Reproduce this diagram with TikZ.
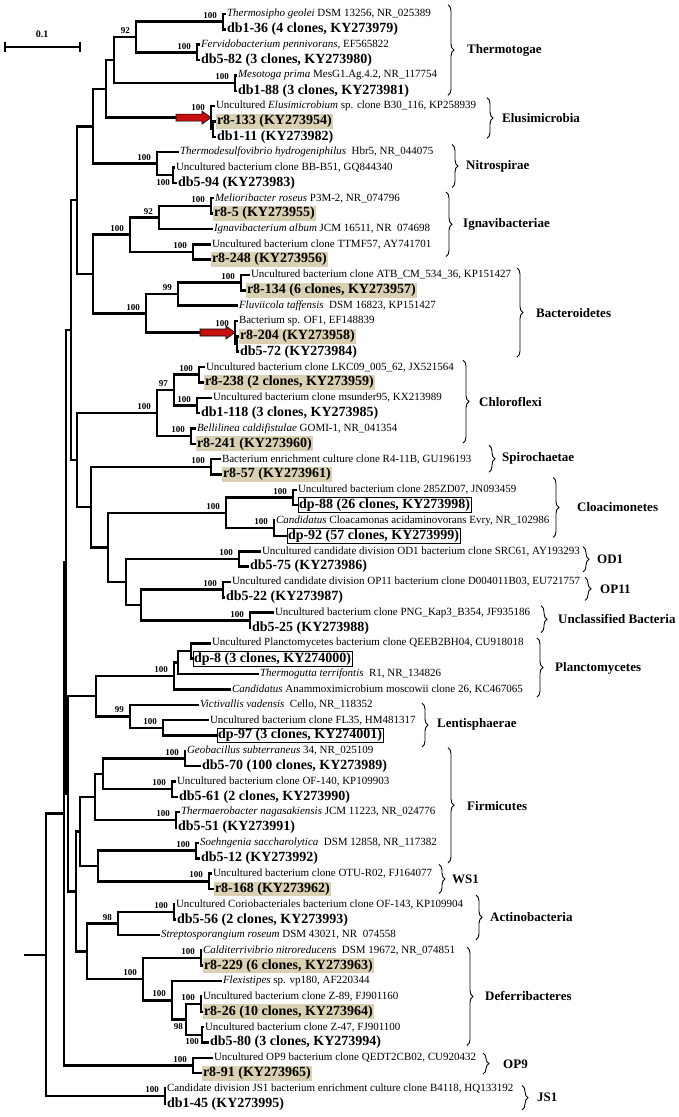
\documentclass[tikz,border=0pt]{standalone}
\usepackage{fontspec}
\setmainfont{Liberation Serif}
\definecolor{hltan}{RGB}{217,209,177}
\definecolor{arrred}{RGB}{200,16,16}
\usetikzlibrary{shapes,arrows,decorations.pathreplacing,calc}

\begin{document}
\begin{tikzpicture}[x=1pt, y=-15.35pt,
    br/.style={line width=2.5pt},
    sp/.style={anchor=west, inner sep=1pt, outer sep=0pt, font=\fontsize{11}{12}\selectfont},
    cl/.style={anchor=west, inner sep=1pt, outer sep=0pt, font=\fontsize{14}{16}\selectfont\bfseries},
    hl/.style={cl, fill=hltan},
    bx/.style={cl, draw, line width=0.9pt},
    bs/.style={anchor=south east, inner sep=0pt, xshift=-6pt, yshift=3pt, font=\fontsize{9}{10}\selectfont\bfseries},
    bsl/.style={anchor=north east, inner sep=0pt, xshift=-3pt, yshift=-4pt, font=\fontsize{9}{10}\selectfont\bfseries},
    grp/.style={anchor=west, inner sep=0pt, font=\fontsize{13}{15}\selectfont\bfseries},
    brc/.style={decorate, decoration={brace, amplitude=6pt}, line width=0.9pt},
    redarr/.pic={\filldraw[fill=arrred, draw=black, line width=0.6pt] (-35pt,-3.5pt) -- (-9pt,-3.5pt) -- (-9pt,-6.5pt) -- (0pt,0pt) -- (-9pt,6.5pt) -- (-9pt,3.5pt) -- (-35pt,3.5pt) -- cycle;}]
  \useasboundingbox (0pt,0pt) rectangle (678pt,-1117pt);
  \begin{scope}[yshift=-14pt]
    % Scale bar
    \coordinate (sb0) at (5,2.15);
    \coordinate (sb1) at (80,2.15);
    \draw[br] (sb0) -- (sb1);
    \draw[line width=1.6pt] (5,1.85) -- (5,2.45) (80,1.85) -- (80,2.45);
    \node[font=\fontsize{10}{12}\selectfont\bfseries] (sbl) at (42,1.35) {0.1};

    % Inner nodes
    \coordinate (c01) at (223,0.5);
    \coordinate (c23) at (197,2.5);
    \coordinate (n92) at (136,1.5);
    \coordinate (c45) at (235,4.5);
    \coordinate (thr) at (114,3);
    \coordinate (c78) at (213,7.5);
    \coordinate (elu) at (211,6.75);
    \coordinate (n2) at (106,4.875);
    \coordinate (c1011) at (173,10.5);
    \coordinate (nit) at (157,9.75);
    \coordinate (n1) at (93,7.3125);
    \coordinate (c1213) at (211,12.5);
    \coordinate (n92b) at (159,13.25);
    \coordinate (c1516) at (193,15.5);
    \coordinate (ign) at (130,14.375);
    \coordinate (c1718) at (241,17.5);
    \coordinate (n99) at (178,18.25);
    \coordinate (c2122) at (237,21.5);
    \coordinate (ba) at (235,20.75);
    \coordinate (bac) at (146,19.5);
    \coordinate (n3) at (93,16.9375);
    \coordinate (n0) at (77,12.125);
    \coordinate (c2324) at (199,23.5);
    \coordinate (c2526) at (197,25.5);
    \coordinate (n97) at (174,24.5);
    \coordinate (c2728) at (191,27.5);
    \coordinate (chl) at (157,26);
    \coordinate (c2930) at (211,29.5);
    \coordinate (c3132) at (293,31.5);
    \coordinate (c3334) at (274,33.5);
    \coordinate (clo) at (226,32.5);
    \coordinate (c3536) at (239,35.5);
    \coordinate (c3738) at (223,37.5);
    \coordinate (c3940) at (250,39.5);
    \coordinate (nb) at (141,38.5);
    \coordinate (nc) at (126,37);
    \coordinate (na) at (108,34.75);
    \coordinate (ns) at (91,32.125);
    \coordinate (ncs) at (77,29.0625);
    \coordinate (nk) at (71,20.59375);
    \coordinate (c4142) at (191,41.5);
    \coordinate (np1) at (178,42.25);
    \coordinate (np0) at (174,43.125);
    \coordinate (nl1) at (163,46.5);
    \coordinate (len) at (130,45.75);
    \coordinate (npl) at (96,44.4375);
    \coordinate (c4849) at (185,48.5);
    \coordinate (c5051) at (172,50.5);
    \coordinate (nf2) at (103,49.5);
    \coordinate (c5253) at (176,52.5);
    \coordinate (nf1) at (95,51);
    \coordinate (c5455) at (196,54.5);
    \coordinate (c5657) at (209,56.5);
    \coordinate (nf3) at (98,55.5);
    \coordinate (nf0) at (80,53.25);
    \coordinate (c5859) at (174,58.5);
    \coordinate (n98) at (118,59.25);
    \coordinate (c6162) at (201,61.5);
    \coordinate (c6465) at (201,64.5);
    \coordinate (c6667) at (202,66.5);
    \coordinate (nd2) at (186,65.5);
    \coordinate (nd1) at (172,64.25);
    \coordinate (nd0) at (143,62.875);
    \coordinate (nad) at (87,61.0625);
    \coordinate (ng) at (76,57.15625);
    \coordinate (nq) at (68,50.796875);
    \coordinate (nj) at (66,35.6953);
    \coordinate (c6869) at (193,68.5);
    \coordinate (nm) at (64,52.0977);
    \coordinate (c7071) at (165,70.5);
    \coordinate (nr) at (46,61.2988);
    \coordinate (stub) at (24,61.2988);

    % Leaves
    \node[sp] (l0) at (226,0) {\textit{Thermosipho geolei} DSM 13256, NR\_025389};
    \node[cl] (l1) at (226,1) {db1-36 (4 clones, KY273979)};
    \node[sp] (l2) at (200,2) {\textit{Fervidobacterium pennivorans}, EF565822};
    \node[cl] (l3) at (200,3) {db5-82 (3 clones, KY273980)};
    \node[sp] (l4) at (237,4) {\textit{Mesotoga prima} MesG1.Ag.4.2, NR\_117754};
    \node[cl] (l5) at (237,5) {db1-88 (3 clones, KY273981)};
    \node[sp] (l6) at (215,6) {Uncultured \textit{Elusimicrobium} sp. clone B30\_116, KP258939};
    \node[hl] (l7) at (216,7) {r8-133 (KY273954)};
    \node[cl] (l8) at (216,8) {db1-11 (KY273982)};
    \node[sp] (l9) at (179,9) {\textit{Thermodesulfovibrio hydrogeniphilus}\ \ Hbr5, NR\_044075};
    \node[sp] (l10) at (175,10) {Uncultured bacterium clone BB-B51, GQ844340};
    \node[cl] (l11) at (177,11) {db5-94 (KY273983)};
    \node[sp] (l12) at (214,12) {\textit{Melioribacter roseus} P3M-2, NR\_074796};
    \node[hl] (l13) at (213,13) {r8-5 (KY273955)};
    \node[sp] (l14) at (213,14) {\textit{Ignavibacterium album} JCM 16511, NR\ \ 074698};
    \node[sp] (l15) at (211,15) {Uncultured bacterium clone TTMF57, AY741701};
    \node[hl] (l16) at (211,16) {r8-248 (KY273956)};
    \node[sp] (l17) at (250,17) {Uncultured bacterium clone ATB\_CM\_534\_36, KP151427};
    \node[hl] (l18) at (246,18) {r8-134 (6 clones, KY273957)};
    \node[sp] (l19) at (238,19) {\textit{Fluviicola taffensis}\ \ DSM 16823, KP151427};
    \node[sp] (l20) at (238,20) {Bacterium sp. OF1, EF148839};
    \node[hl] (l21) at (239,21) {r8-204 (KY273958)};
    \node[cl] (l22) at (239,22) {db5-72 (KY273984)};
    \node[sp] (l23) at (205,23) {Uncultured bacterium clone LKC09\_005\_62, JX521564};
    \node[hl] (l24) at (204,24) {r8-238 (2 clones, KY273959)};
    \node[sp] (l25) at (212,25) {Uncultured bacterium clone msunder95, KX213989};
    \node[cl] (l26) at (200,26) {db1-118 (3 clones, KY273985)};
    \node[sp] (l27) at (196,27) {\textit{Bellilinea caldifistulae} GOMI-1, NR\_041354};
    \node[hl] (l28) at (196,28) {r8-241 (KY273960)};
    \node[sp] (l29) at (221,29) {Bacterium enrichment culture clone R4-11B, GU196193};
    \node[hl] (l30) at (222,30) {r8-57 (KY273961)};
    \node[sp] (l31) at (297,31) {Uncultured bacterium clone 285ZD07, JN093459};
    \node[bx] (l32) at (298,32) {dp-88 (26 clones, KY273998)};
    \node[sp] (l33) at (275,33) {\textit{Candidatus} Cloacamonas acidaminovorans Evry, NR\_102986};
    \node[bx] (l34) at (287,34) {dp-92 (57 clones, KY273999)};
    \node[sp] (l35) at (261,35) {Uncultured candidate division OD1 bacterium clone SRC61, AY193293};
    \node[cl] (l36) at (249,36) {db5-75 (KY273986)};
    \node[sp] (l37) at (231,37) {Uncultured candidate division OP11 bacterium clone D004011B03, EU721757};
    \node[cl] (l38) at (225,38) {db5-22 (KY273987)};
    \node[sp] (l39) at (274,39) {Uncultured bacterium clone PNG\_Kap3\_B354, JF935186};
    \node[cl] (l40) at (251,40) {db5-25 (KY273988)};
    \node[sp] (l41) at (211,41) {Uncultured Planctomycetes bacterium clone QEEB2BH04, CU918018};
    \node[bx] (l42) at (193,42) {dp-8 (3 clones, KY274000)};
    \node[sp] (l43) at (259,43) {\textit{Thermogutta terrifontis}\ \ R1, NR\_134826};
    \node[sp] (l44) at (231,44) {\textit{Candidatus} Anammoximicrobium moscowii clone 26, KC467065};
    \node[sp] (l45) at (199,45) {\textit{Victivallis vadensis}\ \ Cello, NR\_118352};
    \node[sp] (l46) at (209,46) {Uncultured bacterium clone FL35, HM481317};
    \node[bx] (l47) at (217,47) {dp-97 (3 clones, KY274001)};
    \node[sp] (l48) at (186,48) {\textit{Geobacillus subterraneus} 34, NR\_025109};
    \node[cl] (l49) at (201,49) {db5-70 (100 clones, KY273989)};
    \node[sp] (l50) at (176,50) {Uncultured bacterium clone OF-140, KP109903};
    \node[cl] (l51) at (178,51) {db5-61 (2 clones, KY273990)};
    \node[sp] (l52) at (180,52) {\textit{Thermaerobacter nagasakiensis} JCM 11223, NR\_024776};
    \node[cl] (l53) at (177,53) {db5-51 (KY273991)};
    \node[sp] (l54) at (199,54) {\textit{Soehngenia saccharolytica}\ \ DSM 12858, NR\_117382};
    \node[cl] (l55) at (200,55) {db5-12 (KY273992)};
    \node[sp] (l56) at (212,56) {Uncultured bacterium clone OTU-R02, FJ164077};
    \node[hl] (l57) at (214,57) {r8-168 (KY273962)};
    \node[sp] (l58) at (175,58) {Uncultured Coriobacteriales bacterium clone OF-143, KP109904};
    \node[cl] (l59) at (176,59) {db5-56 (2 clones, KY273993)};
    \node[sp] (l60) at (160,60) {\textit{Streptosporangium roseum} DSM 43021, NR\ \ 074558};
    \node[sp] (l61) at (202,61) {\textit{Calditerrivibrio nitroreducens}\ \ DSM 19672, NR\_074851};
    \node[hl] (l62) at (203,62) {r8-229 (6 clones, KY273963)};
    \node[sp] (l63) at (222,63) {\textit{Flexistipes} sp. vp180, AF220344};
    \node[sp] (l64) at (202,64) {Uncultured bacterium clone Z-89, FJ901160};
    \node[hl] (l65) at (203,65) {r8-26 (10 clones, KY273964)};
    \node[sp] (l66) at (204,66) {Uncultured bacterium clone Z-47, FJ901100};
    \node[cl] (l67) at (209,67) {db5-80 (3 clones, KY273994)};
    \node[sp] (l68) at (213,68) {Uncultured OP9 bacterium clone QEDT2CB02, CU920432};
    \node[hl] (l69) at (202,69) {r8-91 (KY273965)};
    \node[sp] (l70) at (166,70) {Candidate division JS1 bacterium enrichment culture clone B4118, HQ133192};
    \node[cl] (l71) at (166,71) {db1-45 (KY273995)};

    % Branches
    \draw[br] (c01) |- (l0.west) (c01) |- (l1.west)
      (c23) |- (l2.west) (c23) |- (l3.west)
      (n92) |- (c01) (n92) |- (c23)
      (c45) |- (l4.west) (c45) |- (l5.west)
      (thr) |- (n92) (thr) |- (c45)
      (c78) |- (l7.west) (c78) |- (l8.west)
      (elu) |- (l6.west) (elu) |- (c78)
      (n2) |- (thr) (n2) |- (elu)
      (c1011) |- (l10.west) (c1011) |- (l11.west)
      (nit) |- (l9.west) (nit) |- (c1011)
      (n1) |- (n2) (n1) |- (nit)
      (c1213) |- (l12.west) (c1213) |- (l13.west)
      (n92b) |- (c1213) (n92b) |- (l14.west)
      (c1516) |- (l15.west) (c1516) |- (l16.west)
      (ign) |- (n92b) (ign) |- (c1516)
      (c1718) |- (l17.west) (c1718) |- (l18.west)
      (n99) |- (c1718) (n99) |- (l19.west)
      (c2122) |- (l21.west) (c2122) |- (l22.west)
      (ba) |- (l20.west) (ba) |- (c2122)
      (bac) |- (n99) (bac) |- (ba)
      (n3) |- (ign) (n3) |- (bac)
      (n0) |- (n1) (n0) |- (n3);
    \draw[br] (c2324) |- (l23.west) (c2324) |- (l24.west)
      (c2526) |- (l25.west) (c2526) |- (l26.west)
      (n97) |- (c2324) (n97) |- (c2526)
      (c2728) |- (l27.west) (c2728) |- (l28.west)
      (chl) |- (n97) (chl) |- (c2728)
      (c2930) |- (l29.west) (c2930) |- (l30.west)
      (c3132) |- (l31.west) (c3132) |- (l32.west)
      (c3334) |- (l33.west) (c3334) |- (l34.west)
      (clo) |- (c3132) (clo) |- (c3334)
      (c3536) |- (l35.west) (c3536) |- (l36.west)
      (c3738) |- (l37.west) (c3738) |- (l38.west)
      (c3940) |- (l39.west) (c3940) |- (l40.west)
      (nb) |- (c3738) (nb) |- (c3940)
      (nc) |- (c3536) (nc) |- (nb)
      (na) |- (clo) (na) |- (nc)
      (ns) |- (c2930) (ns) |- (na)
      (ncs) |- (chl) (ncs) |- (ns)
      (nk) |- (n0) (nk) |- (ncs);
    \draw[br] (c4142) |- (l41.west) (c4142) |- (l42.west)
      (np1) |- (c4142) (np1) |- (l43.west)
      (np0) |- (np1) (np0) |- (l44.west)
      (nl1) |- (l46.west) (nl1) |- (l47.west)
      (len) |- (l45.west) (len) |- (nl1)
      (npl) |- (np0) (npl) |- (len)
      (c4849) |- (l48.west) (c4849) |- (l49.west)
      (c5051) |- (l50.west) (c5051) |- (l51.west)
      (nf2) |- (c4849) (nf2) |- (c5051)
      (c5253) |- (l52.west) (c5253) |- (l53.west)
      (nf1) |- (nf2) (nf1) |- (c5253)
      (c5455) |- (l54.west) (c5455) |- (l55.west)
      (c5657) |- (l56.west) (c5657) |- (l57.west)
      (nf3) |- (c5455) (nf3) |- (c5657)
      (nf0) |- (nf1) (nf0) |- (nf3);
    \draw[br] (c5859) |- (l58.west) (c5859) |- (l59.west)
      (n98) |- (c5859) (n98) |- (l60.west)
      (c6162) |- (l61.west) (c6162) |- (l62.west)
      (c6465) |- (l64.west) (c6465) |- (l65.west)
      (c6667) |- (l66.west) (c6667) |- (l67.west)
      (nd2) |- (c6465) (nd2) |- (c6667)
      (nd1) |- (l63.west) (nd1) |- (nd2)
      (nd0) |- (c6162) (nd0) |- (nd1)
      (nad) |- (n98) (nad) |- (nd0)
      (ng) |- (nf0) (ng) |- (nad)
      (nq) |- (npl) (nq) |- (ng)
      (nj) |- (nk) (nj) |- (nq)
      (c6869) |- (l68.west) (c6869) |- (l69.west)
      (nm) |- (nj) (nm) |- (c6869)
      (c7071) |- (l70.west) (c7071) |- (l71.west)
      (nr) |- (nm) (nr) |- (c7071)
      (stub) -- (nr);

    % Red arrows
    \pic at (elu) {redarr};
    \pic at (ba) {redarr};

    % Bootstrap values
    \node[bs] (b01) at (c01) {100};
    \node[bs] (b92) at (n92) {92};
    \node[bs] (b23) at (c23) {100};
    \node[bs] (b45) at (c45) {100};
    \node[bs, yshift=4pt] (belu) at (elu) {100};
    \node[bs] (bnit) at (nit) {100};
    \node[bsl] (b1011) at (c1011) {100};
    \node[bs] (b1213) at (c1213) {100};
    \node[bs] (b92b) at (n92b) {92};
    \node[bs] (bign) at (ign) {100};
    \node[bs] (b1516) at (c1516) {100};
    \node[bs] (b1718) at (c1718) {100};
    \node[bs] (b99) at (n99) {99};
    \node[bs] (bbac) at (bac) {100};
    \node[bs, yshift=3pt] (bba) at (ba) {100};
    \node[bs] (b2324) at (c2324) {100};
    \node[bs] (b97) at (n97) {97};
    \node[bs] (b2526) at (c2526) {100};
    \node[bs] (bchl) at (chl) {100};
    \node[bs] (b2728) at (c2728) {100};
    \node[bs] (b2930) at (c2930) {100};
    \node[bs] (b3132) at (c3132) {100};
    \node[bs] (bclo) at (clo) {100};
    \node[bs] (b3334) at (c3334) {100};
    \node[bs] (b3536) at (c3536) {100};
    \node[bs] (b3738) at (c3738) {100};
    \node[bs] (b3940) at (c3940) {100};
    \node[bs] (bp0) at (np0) {100};
    \node[bs] (blen) at (len) {99};
    \node[bs] (bl1) at (nl1) {100};
    \node[bs] (b4849) at (c4849) {100};
    \node[bs] (b5051) at (c5051) {100};
    \node[bs] (b5253) at (c5253) {100};
    \node[bs] (b5455) at (c5455) {100};
    \node[bs] (b5657) at (c5657) {100};
    \node[bs] (b5859) at (c5859) {100};
    \node[bs] (b98) at (n98) {98};
    \node[bs] (b6162) at (c6162) {100};
    \node[bs] (bd0) at (nd0) {100};
    \node[bs] (b6465) at (c6465) {100};
    \node[bs] (bd1) at (nd1) {100};
    \node[bsl] (bd2) at (nd2) {98};
    \node[bsl] (b6667) at (c6667) {100};
    \node[bs] (b6869) at (c6869) {100};
    \node[bs] (b7071) at (c7071) {100};

    % Groups
    \draw[brc] (448,-0.6) -- (448,5.3);
    \node[grp] (gthe) at (467,2.35) {Thermotogae};
    \draw[brc] (487,5.45) -- (487,8.1);
    \node[grp] (gelu) at (502,6.78) {Elusimicrobia};
    \draw[brc] (452,8.5) -- (452,11.3);
    \node[grp] (gnit) at (466,9.9) {Nitrospirae};
    \draw[brc] (446,11.6) -- (446,15.8);
    \node[grp] (gign) at (463,13.7) {Ignavibacteriae};
    \draw[brc] (517,16.55) -- (517,22.35);
    \node[grp] (gbac) at (536,19.45) {Bacteroidetes};
    \draw[brc] (463,22.55) -- (463,27.95);
    \node[grp] (gchl) at (479,25.25) {Chloroflexi};
    \draw[brc] (489,28.1) -- (489,29.85);
    \node[grp] (gspi) at (502,28.97) {Spirochaetae};
    \draw[brc] (553,30.2) -- (553,34.1);
    \node[grp] (gclo) at (577,32.15) {Cloacimonetes};
    \draw[brc] (583,34.7) -- (583,36.35);
    \node[grp] (god1) at (597,35.5) {OD1};
    \draw[brc] (585,36.7) -- (585,38.2);
    \node[grp] (gop11) at (600,37.45) {OP11};
    \draw[brc] (541,38.55) -- (541,40.3);
    \node[grp] (gunc) at (558,39.4) {Unclassified Bacteria};
    \draw[brc] (537,40.65) -- (537,44.5);
    \node[grp] (gpla) at (555,42.6) {Planctomycetes};
    \draw[brc] (422,44.9) -- (422,47.75);
    \node[grp] (glen) at (437,46.3) {Lentisphaerae};
    \draw[brc] (448,47.8) -- (448,55.3);
    \node[grp] (gfir) at (467,51.6) {Firmicutes};
    \draw[brc] (439,55.4) -- (439,57.3);
    \node[grp] (gws1) at (452,56.35) {WS1};
    \draw[brc] (476,57.4) -- (476,60.3);
    \node[grp] (gact) at (490,58.85) {Actinobacteria};
    \draw[brc] (467,60.8) -- (467,67.2);
    \node[grp] (gdef) at (485,64.0) {Deferribacteres};
    \draw[brc] (483,67.7) -- (483,69.05);
    \node[grp] (gop9) at (503,68.4) {OP9};
    \draw[brc] (522,69.8) -- (522,71.4);
    \node[grp] (gjs1) at (537,70.6) {JS1};
  \end{scope}
\end{tikzpicture}
\end{document}
